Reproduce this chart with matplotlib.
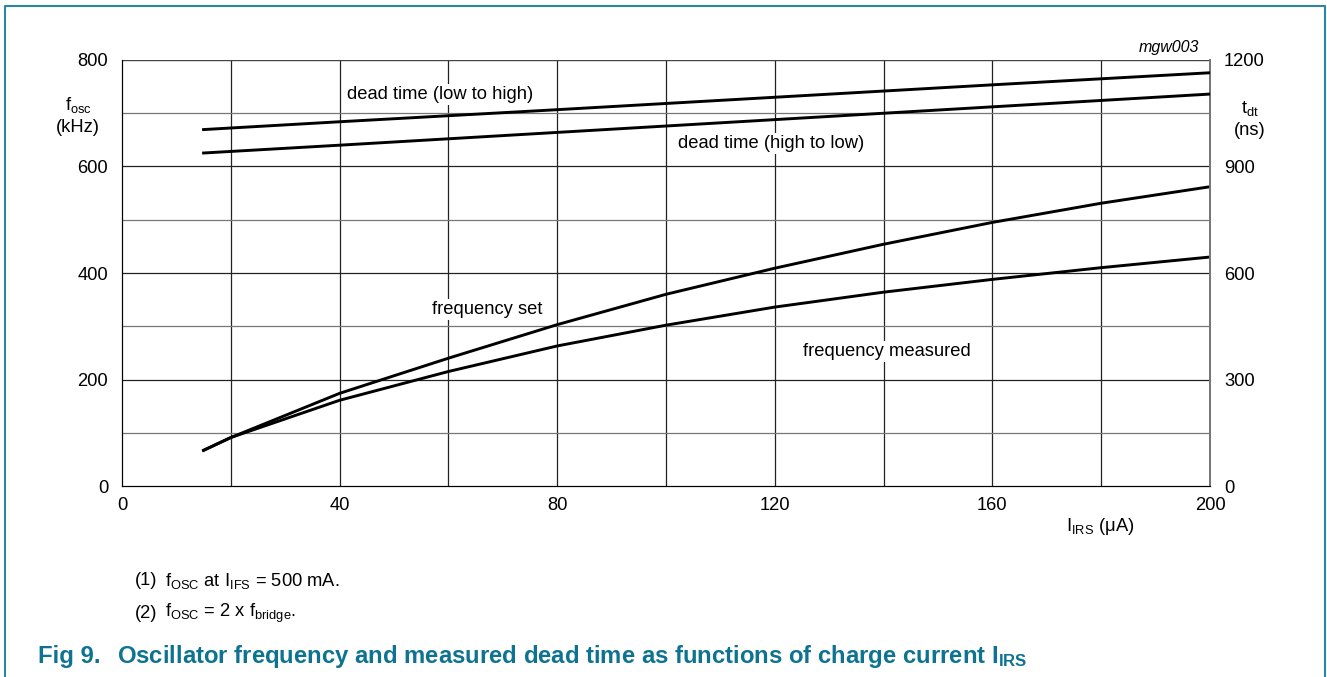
import numpy as np
import matplotlib
matplotlib.use('Agg')
import matplotlib.pyplot as plt
from matplotlib.lines import Line2D

plt.rcParams['font.family'] = ['Liberation Sans', 'DejaVu Sans']
plt.rcParams['mathtext.fontset'] = 'custom'
plt.rcParams['mathtext.rm'] = 'Liberation Sans'
plt.rcParams['mathtext.it'] = 'Liberation Sans:italic'
plt.rcParams['mathtext.bf'] = 'Liberation Sans:bold'

# charge current I_IRS (uA)
i_irs      = [15, 20, 40, 60, 80, 100, 120, 140, 160, 180, 200]
# oscillator frequency (kHz), left axis
freq_set   = [67, 91, 174, 240, 303, 360, 409, 454, 495, 531, 562]
freq_meas  = [67, 91, 161, 215, 263, 302, 336, 364, 388, 410, 430]

# dead time (ns), right axis
i_dt        = [15, 40, 80, 120, 160, 200]
dt_low_high = [1004, 1026, 1060, 1095, 1130, 1164]
dt_high_low = [938, 960, 996, 1032, 1068, 1104]

x_ticks  = [0, 40, 80, 120, 160, 200]
yl_ticks = [0, 200, 400, 600, 800]
yr_ticks = [0, 300, 600, 900, 1200]

teal = '#0e7391'
fs = 13.2

fig = plt.figure(figsize=(13.27, 6.77), dpi=100)
ax = fig.add_axes([0.0919, 0.2821, 0.8199, 0.6293])
ax2 = ax.twinx()

ax.set_xlim(0, 200)
ax.set_ylim(0, 800)
ax2.set_ylim(0, 1200)

# grid: black major, grey minor
for x in range(20, 200, 20):
    ax.axvline(x, color='#222222', lw=0.9, zorder=1)
for y in range(100, 800, 100):
    c = '#222222' if y % 200 == 0 else '#777777'
    ax.axhline(y, color=c, lw=0.9, zorder=1)
ax.axhline(800, color='#444444', lw=1.0, zorder=1)

ax.plot(i_irs, freq_set,  color='black', lw=2.1, zorder=3)
ax.plot(i_irs, freq_meas, color='black', lw=2.1, zorder=3)
ax2.plot(i_dt, dt_low_high, color='black', lw=2.1, zorder=3)
ax2.plot(i_dt, dt_high_low, color='black', lw=2.1, zorder=3)

ax.set_xticks(x_ticks)
ax.set_yticks(yl_ticks)
ax2.set_yticks(yr_ticks)
ax.tick_params(axis='x', length=0, pad=8, labelsize=fs)
ax.tick_params(axis='y', length=0, pad=10, labelsize=fs)
ax2.tick_params(axis='y', length=0, pad=10, labelsize=fs)

for a in (ax, ax2):
    a.spines['top'].set_visible(False)
    a.spines['left'].set_color('black')
    a.spines['bottom'].set_color('black')
    a.spines['right'].set_color('#777777')
    a.spines['right'].set_linewidth(1.4)

box = dict(facecolor='white', edgecolor='none', pad=1.5)
ax.text(58.5, 735, 'dead time (low to high)', fontsize=fs, ha='center', va='center', bbox=box, zorder=2)
ax.text(119.3, 644, 'dead time (high to low)', fontsize=fs, ha='center', va='center', bbox=box, zorder=2)
ax.text(67.1, 332, 'frequency set', fontsize=fs, ha='center', va='center', bbox=box, zorder=2)
ax.text(140.6, 253, 'frequency measured', fontsize=fs, ha='center', va='center', bbox=box, zorder=2)

fig.text(0.9035, 0.930, 'mgw003', fontsize=11.5, style='italic', ha='right', va='center')
fig.text(0.059, 0.845, r'f$_\mathrm{osc}$', fontsize=fs, ha='center', va='center')
fig.text(0.059, 0.812, '(kHz)', fontsize=fs, ha='center', va='center')
fig.text(0.942, 0.840, r't$_\mathrm{dt}$', fontsize=fs, ha='center', va='center')
fig.text(0.942, 0.807, '(ns)', fontsize=fs, ha='center', va='center')
fig.text(0.829, 0.222, r'I$_\mathrm{IRS}$ (μA)', fontsize=fs, ha='center', va='center')

# notes and caption
fig.text(0.102, 0.142, '(1)', fontsize=fs, ha='left', va='center')
fig.text(0.124, 0.142, r'f$_\mathrm{OSC}$ at I$_\mathrm{IFS}$ = 500 mA.', fontsize=fs, ha='left', va='center')
fig.text(0.102, 0.094, '(2)', fontsize=fs, ha='left', va='center')
fig.text(0.124, 0.094, r'f$_\mathrm{OSC}$ = 2 x f$_\mathrm{bridge}$.', fontsize=fs, ha='left', va='center')
fig.text(0.029, 0.030, 'Fig 9.', fontsize=17.2, weight='bold', color=teal, ha='left', va='center')
fig.text(0.088, 0.030, r'Oscillator frequency and measured dead time as functions of charge current I$_\mathbf{IRS}$',
         fontsize=17.2, weight='bold', color=teal, ha='left', va='center')

# teal frame (open at the bottom)
fx = [0.004, 0.004, 0.9985, 0.9985]
fy = [0.0, 0.991, 0.991, 0.0]
fig.add_artist(Line2D(fx, fy, color='#2a86a3', lw=1.5, transform=fig.transFigure))

fig.savefig('out.png', dpi=100)
